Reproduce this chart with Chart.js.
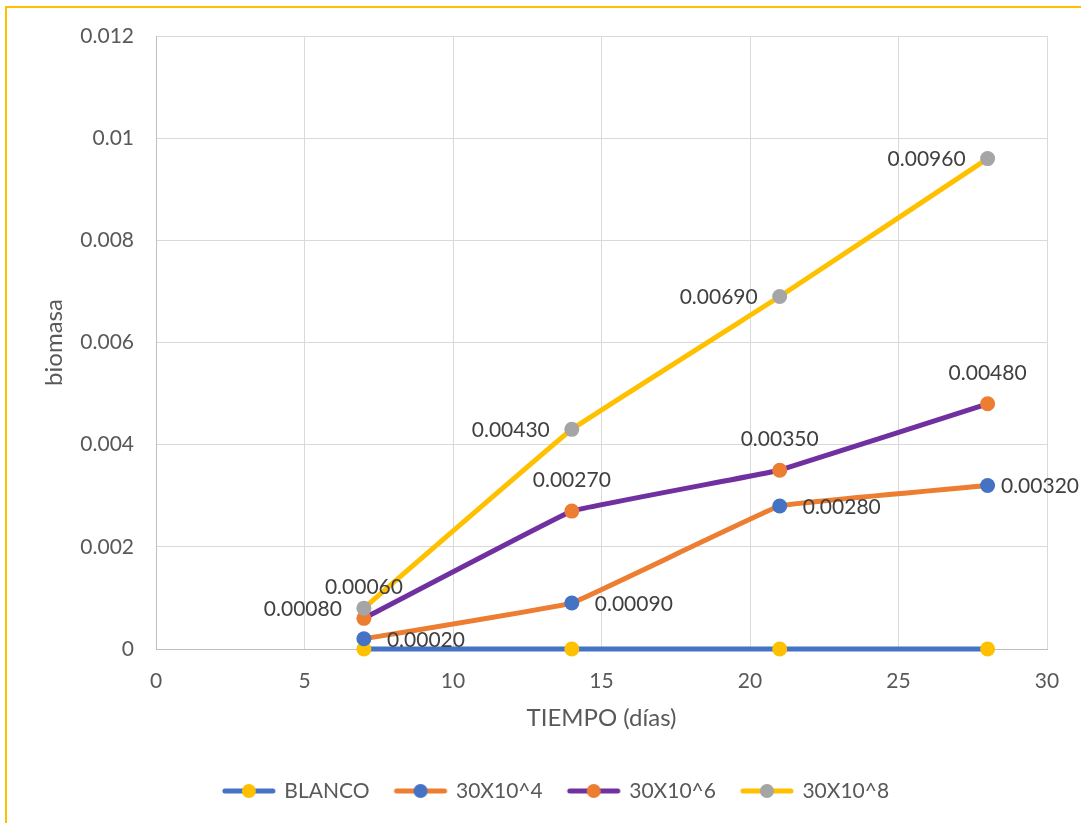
<!DOCTYPE html>
<html>
<head>
<meta charset="utf-8">
<script src="https://cdn.jsdelivr.net/npm/chart.js@4/dist/chart.umd.min.js"></script>
<style>
  html, body { margin: 0; padding: 0; background: #fff; }
  #frame {
    position: absolute; left: 5px; top: 6px; width: 1200px; height: 900px;
    border-left: 2px solid #FFC000; border-top: 2px solid #FFC000;
  }
  #wrap { position: absolute; left: 0; top: 0; width: 1081px; height: 823px; }
</style>
</head>
<body>
<div id="frame"></div>
<div id="wrap"><canvas id="biomasa-chart"></canvas></div>
<script>
// dias de muestreo y biomasa por tratamiento
const dias = [7, 14, 21, 28];
const blanco = [0, 0, 0, 0];
const trat4 = [0.0002, 0.0009, 0.0028, 0.0032];
const trat6 = [0.0006, 0.0027, 0.0035, 0.0048];
const trat8 = [0.0008, 0.0043, 0.0069, 0.0096];
const nombres = ["BLANCO", "30X10^4", "30X10^6", "30X10^8"];

const xMax = 30, xStep = 5;
const yMax = 0.012, yStep = 0.002;

const FONT = "Lato";
const textColor = "#595959";

// linea y marcador con colores distintos (como la hoja original)
const estilos = [
    { line: "#4472C4", mark: "#FFC000", pos: null },
    { line: "#ED7D31", mark: "#4472C4", pos: "right" },
    { line: "#7030A0", mark: "#ED7D31", pos: "top" },
    { line: "#FFC000", mark: "#A5A5A5", pos: "left" },
];

const series = [blanco, trat4, trat6, trat8];

function legendIcon(lineColor, markColor) {
    const c = document.createElement("canvas");
    c.width = 56;
    c.height = 18;
    const ctx = c.getContext("2d");
    ctx.strokeStyle = lineColor;
    ctx.lineWidth = 5;
    ctx.lineCap = "round";
    ctx.beginPath();
    ctx.moveTo(4, 9);
    ctx.lineTo(52, 9);
    ctx.stroke();
    ctx.fillStyle = markColor;
    ctx.beginPath();
    ctx.arc(28, 9, 7, 0, Math.PI * 2);
    ctx.fill();
    return c;
}

// etiquetas de valor junto a cada punto
const valueLabels = {
    id: "valueLabels",
    afterDatasetsDraw(chart) {
        const ctx = chart.ctx;
        ctx.save();
        ctx.font = "21px " + FONT;
        ctx.fillStyle = "#404040";
        ctx.textBaseline = "middle";
        chart.data.datasets.forEach((ds, i) => {
            if (!ds.labelPos) return;
            const meta = chart.getDatasetMeta(i);
            meta.data.forEach((pt, j) => {
                const txt = ds.data[j].y.toFixed(5);
                if (ds.labelPos === "right") {
                    // no dejar que la etiqueta se salga por la derecha
                    const w = ctx.measureText(txt).width;
                    ctx.textAlign = "left";
                    ctx.fillText(txt, Math.min(pt.x + 23, chart.width - w - 2), pt.y + 1);
                } else if (ds.labelPos === "left") {
                    ctx.textAlign = "right";
                    ctx.fillText(txt, pt.x - 22, pt.y + 1);
                } else {
                    ctx.textAlign = "center";
                    ctx.fillText(txt, pt.x, pt.y - 31);
                }
            });
        });
        ctx.restore();
    },
};

// corre la leyenda para dejarla donde va
const legendShift = {
    id: "legendShift",
    afterLayout(chart) {
        chart.legend.left += 33;
        chart.legend.right += 33;
    },
};

const datasets = series.map((vals, i) => ({
    label: nombres[i],
    data: dias.map((d, j) => ({ x: d, y: vals[j] })),
    borderColor: estilos[i].line,
    backgroundColor: estilos[i].mark,
    pointBackgroundColor: estilos[i].mark,
    pointBorderColor: estilos[i].mark,
    pointBorderWidth: 0,
    pointRadius: 7.5,
    borderWidth: 5,
    borderJoinStyle: "round",
    tension: 0.05,
    clip: false,
    order: series.length - i,
    labelPos: estilos[i].pos,
}));

new Chart(document.getElementById("biomasa-chart"), {
    type: "line",
    data: { datasets: datasets },
    plugins: [valueLabels, legendShift],
    options: {
        responsive: true,
        maintainAspectRatio: false,
        animation: false,
        layout: { padding: { left: 0, top: 36, right: 34, bottom: 11.5 } },
        plugins: {
            tooltip: { enabled: false },
            legend: {
                position: "bottom",
                labels: {
                    usePointStyle: true,
                    pointStyleWidth: 50,
                    padding: 26,
                    color: textColor,
                    font: { family: FONT, size: 21 },
                    generateLabels: function (chart) {
                        return chart.data.datasets.map((ds, i) => ({
                            text: ds.label,
                            datasetIndex: i,
                            hidden: false,
                            fillStyle: ds.pointBackgroundColor,
                            strokeStyle: ds.borderColor,
                            lineWidth: 0,
                            fontColor: textColor,
                            pointStyle: legendIcon(ds.borderColor, ds.pointBackgroundColor),
                        }));
                    },
                },
            },
        },
        scales: {
            x: {
                type: "linear",
                min: 0,
                max: xMax,
                afterFit: function (scale) {
                    scale.height = 105.5;
                },
                ticks: {
                    stepSize: xStep,
                    padding: 20,
                    color: textColor,
                    font: { family: FONT, size: 21 },
                },
                grid: { color: "#D9D9D9", lineWidth: 1, drawTicks: false },
                border: { color: "#BFBFBF", width: 1 },
                title: {
                    display: true,
                    text: "TIEMPO (días)",
                    color: textColor,
                    font: { family: FONT, size: 24 },
                    padding: { top: 0, bottom: 22 },
                },
            },
            y: {
                min: 0,
                max: yMax,
                afterFit: function (scale) {
                    scale.width = 156;
                },
                ticks: {
                    stepSize: yStep,
                    padding: 22,
                    color: textColor,
                    font: { family: FONT, size: 21 },
                    callback: function (v) {
                        return String(Number(v.toFixed(3)));
                    },
                },
                grid: { color: "#D9D9D9", lineWidth: 1, drawTicks: false },
                border: { color: "#BFBFBF", width: 1 },
                title: {
                    display: true,
                    text: "biomasa",
                    color: textColor,
                    font: { family: FONT, size: 24 },
                    padding: { top: 40, bottom: 0 },
                },
            },
        },
    },
});
</script>
</body>
</html>
